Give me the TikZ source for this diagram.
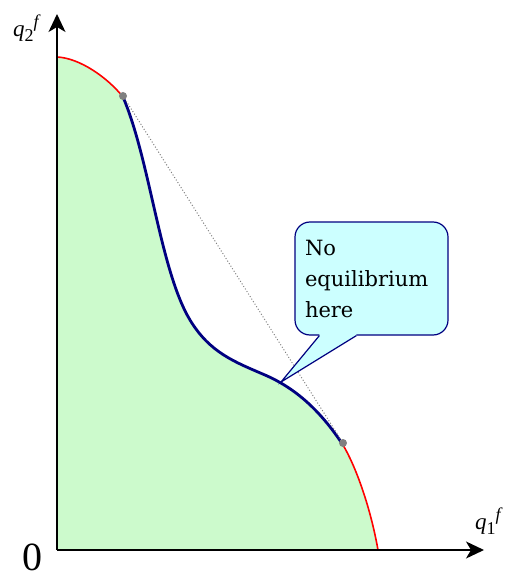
\documentclass[tikz,border=0pt]{standalone}
\usepackage{fontspec}
\setmainfont{Liberation Serif}
\newfontfamily\calloutfont{DejaVu Serif}
\usetikzlibrary{arrows.meta,calc}
\definecolor{fillgreen}{RGB}{204,250,204}
\definecolor{calloutcyan}{RGB}{204,255,255}
\definecolor{navyblue}{RGB}{0,0,128}
\tikzset{
  axis/.style={line width=1.4pt,-{Stealth[length=18pt,width=17pt,inset=5pt]}},
  redcurve/.style={red,line width=1.6pt},
  bluecurve/.style={navyblue,line width=2.8pt},
  enddot/.style={circle,fill=gray,inner sep=0pt,minimum size=8pt},
  calloutbox/.style={draw=navyblue,line width=1.2pt,fill=calloutcyan,rounded corners=15pt,
    minimum width=153pt,minimum height=113pt,text width=133pt,align=left,inner xsep=10pt,
    font=\calloutfont\fontsize{21}{31}\selectfont},
  chord/.style={gray,line width=1pt,dotted},
  axlabel/.style={inner sep=0pt,font=\fontsize{23}{23}\selectfont}
}
\newcommand{\qlab}[1]{\textit{q}\raisebox{-5pt}{\fontsize{18}{18}\selectfont #1}\raisebox{9pt}{\fontsize{18}{18}\selectfont\textit{f}}}
\begin{document}
\begin{tikzpicture}[x=1pt,y=-1pt]
\useasboundingbox (0,0) rectangle (507,580);
% fill region
\fill[fillgreen] (57,550) -- (57,57)
  .. controls (80,58) and (108,78) .. (123,97)
  .. controls (150,160) and (160,270) .. (190,320)
  .. controls (210,353) and (235,362) .. (265,375)
  .. controls (295,388) and (320,410) .. (343,445)
  .. controls (355,465) and (370,505) .. (378,550)
  -- cycle;
% curves
\draw[redcurve] (57,57) .. controls (80,58) and (108,78) .. (123,97);
\draw[redcurve] (343,445) .. controls (355,465) and (370,505) .. (378,550);
\draw[bluecurve] (123,97)
  .. controls (150,160) and (160,270) .. (190,320)
  .. controls (210,353) and (235,362) .. (265,375)
  .. controls (295,388) and (320,410) .. (343,445);
% endpoints and chord
\node[enddot] (p1) at (123,96) {};
\node[enddot] (p2) at (343,443) {};
\draw[chord] (p1.center) -- (p2.center);
% axes
\coordinate (O) at (57,550);
\coordinate (ytip) at (57,14);
\coordinate (xtip) at (484,550);
\draw[axis] (O) -- (ytip);
\draw[axis] (O) -- (xtip);
\node[axlabel] (ylab) at (27,28) {\qlab{2}};
\node[axlabel] (xlab) at (489,521) {\qlab{1}};
\node[inner sep=0pt] (zero) at (32,557) {\fontsize{40}{40}\selectfont 0};
% callout
\node[calloutbox] (callout) at (371.5,278.5) {No\\equilibrium\\here};
\coordinate (tip) at (281,382);
\coordinate (bl) at ($(callout.south west)+(25,0)$);
\coordinate (br) at ($(callout.south west)+(62,0)$);
\fill[calloutcyan] ($(bl)+(0,-2)$) -- ($(br)+(0,-2)$) -- (br) -- (tip) -- (bl) -- cycle;
\draw[navyblue,line width=1.2pt,line join=miter] (bl) -- (tip) -- (br);
\end{tikzpicture}
\end{document}
